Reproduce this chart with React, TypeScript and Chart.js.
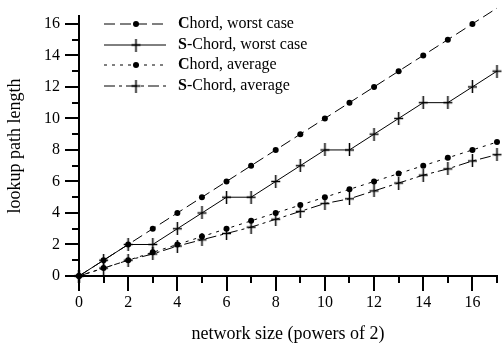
import React, { useEffect, useRef } from "react";
import { Chart, registerables } from "chart.js";

Chart.register(...registerables);

const xValues = [0, 1, 2, 3, 4, 5, 6, 7, 8, 9, 10, 11, 12, 13, 14, 15, 16, 17];
const chordWorst = [0, 1, 2, 3, 4, 5, 6, 7, 8, 9, 10, 11, 12, 13, 14, 15, 16, 17];
const sChordWorst = [0, 1, 2, 2, 3, 4, 5, 5, 6, 7, 8, 8, 9, 10, 11, 11, 12, 13];
const chordAvg = [0, 0.5, 1, 1.5, 2, 2.5, 3, 3.5, 4, 4.5, 5, 5.5, 6, 6.5, 7, 7.5, 8, 8.5];
const sChordAvg = [0, 0.5, 1, 1.4, 1.9, 2.3, 2.7, 3.1, 3.6, 4.1, 4.6, 4.9, 5.4, 5.9, 6.4, 6.8, 7.3, 7.7];

const seriesNames = ["Chord, worst case", "S-Chord, worst case", "Chord, average", "S-Chord, average"];
const xTitle = "network size (powers of 2)";
const yTitle = "lookup path length";

const FONT = "'Liberation Serif', 'Times New Roman', serif";

function makeCross(): HTMLCanvasElement {
  const c = document.createElement("canvas");
  c.width = 11;
  c.height = 13;
  const g = c.getContext("2d")!;
  g.strokeStyle = "#000";
  g.lineWidth = 1.5;
  g.beginPath();
  g.moveTo(5.5, 0);
  g.lineTo(5.5, 13);
  g.moveTo(1, 6.5);
  g.lineTo(10, 6.5);
  g.stroke();
  return c;
}

export default function App() {
  const ref = useRef<HTMLCanvasElement | null>(null);

  useEffect(() => {
    document.body.style.margin = "0";
    const canvas = ref.current!;
    const cross = makeCross();
    const pts = (ys: number[]) => xValues.map((x, i) => ({ x, y: ys[i] }));

    const dashes = [[11, 5], [], [3, 5], [11, 4, 3, 4]];
    const styles: any[] = ["circle", cross, "circle", cross];

    const tickPlugin = {
      id: "ticksPlugin",
      afterDraw(chart: any) {
        const ctx = chart.ctx;
        const xs = chart.scales.x;
        const ys = chart.scales.y;
        const area = chart.chartArea;
        ctx.save();
        ctx.strokeStyle = "#000";
        ctx.lineWidth = 2;
        ctx.beginPath();
        for (let v = 0; v <= 16; v++) {
          const y = Math.round(ys.getPixelForValue(v));
          const len = v % 2 === 0 ? 14 : 7;
          ctx.moveTo(area.left - len, y);
          ctx.lineTo(area.left, y);
        }
        for (let v = 0; v <= 17; v++) {
          const x = Math.round(xs.getPixelForValue(v));
          const len = v % 2 === 0 ? 15 : 7;
          ctx.moveTo(x, area.bottom);
          ctx.lineTo(x, area.bottom + len);
        }
        ctx.stroke();

        // legend
        const rows = [24, 45, 65, 86];
        const x0 = 104, x1 = 166, xm = 136, xt = 178;
        rows.forEach((ry, i) => {
          ctx.save();
          ctx.lineWidth = 1;
          ctx.setLineDash(dashes[i]);
          ctx.beginPath();
          ctx.moveTo(x0, ry);
          ctx.lineTo(x1, ry);
          ctx.stroke();
          ctx.restore();
          if (i % 2 === 0) {
            ctx.fillStyle = "#000";
            ctx.beginPath();
            ctx.arc(xm, ry, 3, 0, Math.PI * 2);
            ctx.fill();
          } else {
            ctx.drawImage(cross, xm - 5.5, ry - 6.5);
          }
          const name = seriesNames[i];
          ctx.fillStyle = "#000";
          ctx.textBaseline = "middle";
          ctx.textAlign = "left";
          ctx.font = `bold 16px ${FONT}`;
          const first = name[0];
          ctx.fillText(first, xt, ry);
          const w = ctx.measureText(first).width;
          ctx.font = `16px ${FONT}`;
          ctx.fillText(name.slice(1), xt + w, ry);
        });
        ctx.restore();
      },
    };

    const chart = new Chart(canvas, {
      type: "scatter",
      data: {
        datasets: [chordWorst, sChordWorst, chordAvg, sChordAvg].map((ys, i) => ({
          label: seriesNames[i],
          data: pts(ys),
          showLine: true,
          borderColor: "#000",
          backgroundColor: "#000",
          borderWidth: 1,
          borderDash: dashes[i],
          pointStyle: styles[i],
          pointRadius: i % 2 === 0 ? 3 : 6,
          pointHoverRadius: i % 2 === 0 ? 3 : 6,
          pointBorderWidth: 0,
          clip: false as any,
        })),
      },
      options: {
        responsive: false,
        animation: false,
        devicePixelRatio: 1,
        layout: { padding: { top: 16, right: 1, left: 0, bottom: 0 } },
        plugins: { legend: { display: false }, tooltip: { enabled: false } },
        scales: {
          x: {
            type: "linear",
            min: 0,
            max: 17,
            afterFit: (s: any) => {
              s.height = 73;
              s.paddingLeft = 0;
              s.paddingRight = 0;
            },
            grid: { display: false, drawTicks: false },
            border: { display: true, color: "#000", width: 2 },
            ticks: {
              stepSize: 1,
              autoSkip: false,
              includeBounds: false,
              maxRotation: 0,
              padding: 17,
              color: "#000",
              font: { family: FONT, size: 16 },
              callback: (v: any) => (Number(v) % 2 === 0 && Number(v) <= 16 ? String(v) : ""),
            },
            title: {
              display: true,
              text: xTitle,
              color: "#000",
              font: { family: FONT, size: 18 },
              padding: { top: 0, bottom: 4 },
            },
          },
          y: {
            type: "linear",
            min: 0,
            max: 16.5,
            afterFit: (s: any) => {
              s.width = 79;
              s.paddingTop = 0;
              s.paddingBottom = 0;
            },
            grid: { display: false, drawTicks: false },
            border: { display: true, color: "#000", width: 2 },
            ticks: {
              stepSize: 1,
              autoSkip: false,
              includeBounds: false,
              padding: 19,
              color: "#000",
              font: { family: FONT, size: 16 },
              callback: (v: any) => (Number(v) % 2 === 0 ? String(v) : ""),
            },
            title: {
              display: true,
              text: yTitle,
              color: "#000",
              font: { family: FONT, size: 18 },
              padding: { top: 4, bottom: 0 },
            },
          },
        },
      },
      plugins: [tickPlugin],
    });
    return () => chart.destroy();
  }, []);

  return (
    <div style={{ width: 503, height: 349, background: "#fff" }}>
      <canvas ref={ref} width={503} height={349} style={{ display: "block" }} />
    </div>
  );
}
